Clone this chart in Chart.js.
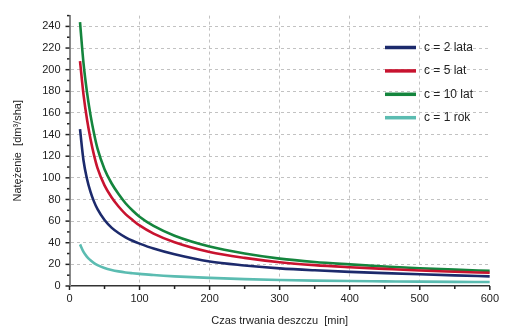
<!DOCTYPE html>
<html>
<head>
<meta charset="utf-8">
<script src="https://cdn.jsdelivr.net/npm/chart.js@4"></script>
<style>
  html, body { margin: 0; padding: 0; background: #fff; }
  #chart { display: block; }
</style>
</head>
<body>
<canvas id="chart" width="505" height="336"></canvas>
<script>
/* Natężenie deszczu vs czas trwania */

const durations = [15, 20, 25, 30, 35, 40, 50, 60, 70, 80, 90, 100, 120, 150, 200, 250, 300, 350, 400, 450, 500, 550, 600];

const seriesLabels = ['c = 2 lata', 'c = 5 lat', 'c = 10 lat', 'c = 1 rok'];
const seriesColors = ['#1c2a6c', '#c8132f', '#14853d', '#5bbcb1'];

const q2lata = [145, 116, 99, 87, 78, 71, 61, 54, 49, 45, 41.8, 39.2, 34.6, 29.3, 22.6, 19, 16.3, 14.5, 13.1, 11.9, 10.8, 9.8, 8.9];
const q5lat  = [208, 177, 154, 136, 121, 109, 93, 82, 73.5, 66.5, 61, 56, 48.5, 40.5, 31.5, 26, 22, 19.3, 17.4, 15.8, 14.3, 13.2, 12.2];
const q10lat = [244, 206, 179, 158, 141, 127, 108, 95, 85, 76.5, 69.8, 64, 55.5, 46.5, 36.5, 30, 25.3, 22.2, 20, 18, 16.4, 15.1, 14];
const q1rok  = [38.5, 31.5, 27, 23.8, 21.2, 19.3, 16.6, 14.8, 13.5, 12.5, 11.8, 11.2, 10.1, 8.9, 7.5, 6.4, 5.6, 5.0, 4.6, 4.3, 4.0, 3.8, 3.7];

const allSeries = [q2lata, q5lat, q10lat, q1rok];

const FONT = '"Liberation Sans", Arial, sans-serif';

// short tick marks outside the axes, longer at labelled values
const tickMarks = {
  id: 'tickMarks',
  afterDraw(chart) {
    const { ctx, scales: { x, y } } = chart;
    ctx.save();
    ctx.strokeStyle = '#222';
    ctx.lineWidth = 1.5;
    x.ticks.forEach(t => {
      const px = x.getPixelForValue(t.value);
      const len = t.value % 100 === 0 ? 4 : 3;
      ctx.beginPath(); ctx.moveTo(px, x.top); ctx.lineTo(px, x.top + len); ctx.stroke();
    });
    y.ticks.forEach(t => {
      const py = y.getPixelForValue(t.value);
      const len = t.value % 20 === 0 ? 4 : 2.5;
      ctx.beginPath(); ctx.moveTo(y.right, py); ctx.lineTo(y.right - len, py); ctx.stroke();
    });
    ctx.restore();
  }
};

// legend drawn inside the plot, upper right
const inLegend = {
  id: 'inLegend',
  afterDatasetsDraw(chart) {
    const ctx = chart.ctx;
    ctx.save();
    ctx.font = '12px ' + FONT;
    ctx.textBaseline = 'middle';
    chart.data.datasets.forEach((ds, i) => {
      const yy = 47.5 + i * 23.4;
      ctx.strokeStyle = ds.borderColor;
      ctx.lineWidth = 3.5;
      ctx.beginPath(); ctx.moveTo(385, yy); ctx.lineTo(416, yy); ctx.stroke();
      ctx.fillStyle = '#222';
      ctx.fillText(ds.label, 424, yy);
    });
    ctx.restore();
  }
};

const gridGrey = '#c2c2c2';

new Chart(document.getElementById('chart'), {
  type: 'line',
  data: {
    datasets: allSeries.map((vals, i) => ({
      label: seriesLabels[i],
      data: durations.map((t, k) => ({ x: t, y: vals[k] })),
      borderColor: seriesColors[i],
      borderWidth: 2.6,
      pointRadius: 0,
      cubicInterpolationMode: 'monotone',
      fill: false
    }))
  },
  options: {
    responsive: false,
    animation: false,
    layout: { padding: { top: 4, right: 9, left: 0, bottom: 0 } },
    plugins: { legend: { display: false }, tooltip: { enabled: false } },
    scales: {
      x: {
        type: 'linear', min: 0, max: 600,
        afterFit: s => { s.height = 50; },
        ticks: {
          stepSize: 50, autoSkip: false, maxRotation: 0, padding: 6,
          color: '#222', font: { family: FONT, size: 11 },
          callback: v => (v % 100 === 0 ? v : '')
        },
        grid: {
          drawTicks: false, lineWidth: 1,
          color: c => (c.tick && c.tick.value % 100 === 0 && c.tick.value > 0 && c.tick.value < 600) ? gridGrey : 'rgba(0,0,0,0)'
        },
        border: { color: '#333', width: 1.5, dash: [3, 3] },
        title: {
          display: true, text: 'Czas trwania deszczu  [min]', color: '#222',
          font: { family: FONT, size: 11 }, padding: { top: 0, bottom: 8 }
        }
      },
      y: {
        min: 0, max: 250,
        afterFit: s => { s.width = 69.5; },
        ticks: {
          stepSize: 10, autoSkip: false, padding: 9,
          color: '#222', font: { family: FONT, size: 11 },
          callback: v => (v % 20 === 0 ? v : '')
        },
        grid: {
          drawTicks: false, lineWidth: 1,
          color: c => (c.tick && c.tick.value % 20 === 0 && c.tick.value > 0 && c.tick.value < 250) ? gridGrey : 'rgba(0,0,0,0)'
        },
        border: { color: '#888', width: 2, dash: [3, 3] },
        title: {
          display: true, text: 'Natężenie  [dm³/sha]', color: '#222',
          font: { family: FONT, size: 11 }, padding: { top: 11, bottom: 0 }
        }
      }
    }
  },
  plugins: [tickMarks, inLegend]
});
</script>
</body>
</html>
